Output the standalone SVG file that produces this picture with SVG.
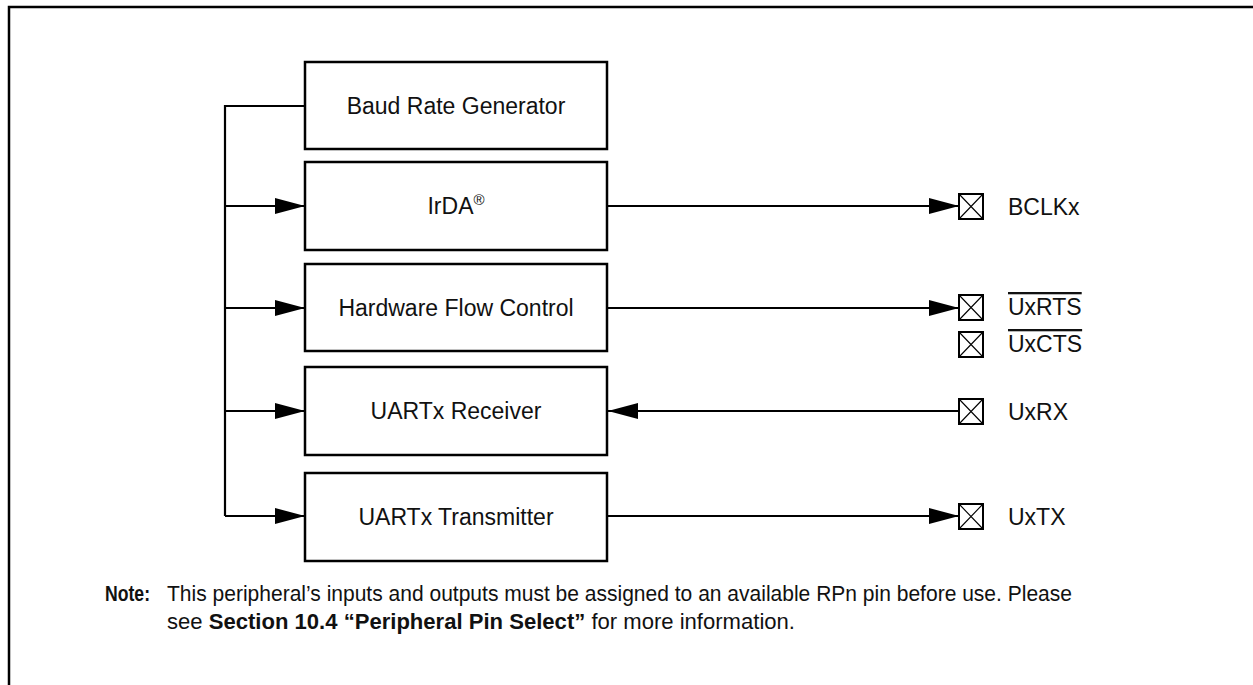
<svg xmlns="http://www.w3.org/2000/svg" width="1253" height="685" viewBox="0 0 1253 685">
<style>
  .box{fill:#fff;stroke:#000;stroke-width:2.5}
  .lbl{font-family:"Liberation Sans",Arial,sans-serif;font-size:23px;fill:#111}
  .wire{fill:none;stroke:#000;stroke-width:2.2}
  .pin{fill:#fff;stroke:#000;stroke-width:2}
  .pinx{stroke:#000;stroke-width:1.1}
  .note{font-family:"Liberation Sans",Arial,sans-serif;font-size:22px;fill:#111}
</style>
<defs>
  <marker id="arr" markerUnits="userSpaceOnUse" markerWidth="31" markerHeight="18" refX="30" refY="9" orient="auto">
    <path d="M0,1 L30,9 L0,17 Z" fill="#000"/>
  </marker>
</defs>
<rect x="0" y="0" width="1253" height="685" fill="#fff"/>
<rect x="9" y="7" width="1270" height="700" fill="none" stroke="#000" stroke-width="2.5"/>

<g id="connectors">
  <path class="wire" d="M305,106 H225 V516"/>
  <line class="wire" x1="225" y1="206" x2="305" y2="206" marker-end="url(#arr)"/>
  <line class="wire" x1="225" y1="308" x2="305" y2="308" marker-end="url(#arr)"/>
  <line class="wire" x1="225" y1="411" x2="305" y2="411" marker-end="url(#arr)"/>
  <line class="wire" x1="225" y1="516" x2="305" y2="516" marker-end="url(#arr)"/>
  <line class="wire" x1="607" y1="206" x2="959" y2="206" marker-end="url(#arr)"/>
  <line class="wire" x1="607" y1="308" x2="959" y2="308" marker-end="url(#arr)"/>
  <line class="wire" x1="959" y1="411" x2="608" y2="411" marker-end="url(#arr)"/>
  <line class="wire" x1="607" y1="516" x2="959" y2="516" marker-end="url(#arr)"/>
</g>

<g id="baud">
  <rect class="box" x="305" y="62" width="302" height="87"/>
  <text class="lbl" x="456" y="114" text-anchor="middle">Baud Rate Generator</text>
</g>
<g id="irda">
  <rect class="box" x="305" y="162" width="302" height="88"/>
  <text class="lbl" x="456" y="214" text-anchor="middle">IrDA<tspan font-size="15" dy="-9">®</tspan></text>
</g>
<g id="hfc">
  <rect class="box" x="305" y="264" width="302" height="87"/>
  <text class="lbl" x="456" y="316" text-anchor="middle">Hardware Flow Control</text>
</g>
<g id="rx">
  <rect class="box" x="305" y="367" width="302" height="88"/>
  <text class="lbl" x="456" y="419" text-anchor="middle">UARTx Receiver</text>
</g>
<g id="tx">
  <rect class="box" x="305" y="473" width="302" height="88"/>
  <text class="lbl" x="456" y="525" text-anchor="middle">UARTx Transmitter</text>
</g>

<g id="pin-bclkx">
  <rect class="pin" x="959" y="194" width="24" height="25"/>
  <path class="pinx" d="M959,194 L983,219 M983,194 L959,219"/>
  <text class="lbl" x="1008" y="215">BCLKx</text>
</g>
<g id="pin-uxrts">
  <rect class="pin" x="959" y="295" width="24" height="25"/>
  <path class="pinx" d="M959,295 L983,320 M983,295 L959,320"/>
  <text class="lbl" x="1008" y="315" text-decoration="overline">UxRTS</text>
</g>
<g id="pin-uxcts">
  <rect class="pin" x="959" y="332" width="24" height="25"/>
  <path class="pinx" d="M959,332 L983,357 M983,332 L959,357"/>
  <text class="lbl" x="1008" y="352" text-decoration="overline">UxCTS</text>
</g>
<g id="pin-uxrx">
  <rect class="pin" x="959" y="399" width="24" height="25"/>
  <path class="pinx" d="M959,399 L983,424 M983,399 L959,424"/>
  <text class="lbl" x="1008" y="420">UxRX</text>
</g>
<g id="pin-uxtx">
  <rect class="pin" x="959" y="504" width="24" height="25"/>
  <path class="pinx" d="M959,504 L983,529 M983,504 L959,529"/>
  <text class="lbl" x="1008" y="525">UxTX</text>
</g>

<g id="note">
  <text class="note" x="105" y="601" font-weight="bold" textLength="45" lengthAdjust="spacingAndGlyphs">Note:</text>
  <text class="note" x="167" y="601" textLength="905" lengthAdjust="spacingAndGlyphs">This peripheral’s inputs and outputs must be assigned to an available RPn pin before use. Please</text>
  <text class="note" x="167" y="629" textLength="628" lengthAdjust="spacingAndGlyphs">see <tspan font-weight="bold">Section 10.4 “Peripheral Pin Select”</tspan> for more information.</text>
</g>
</svg>
